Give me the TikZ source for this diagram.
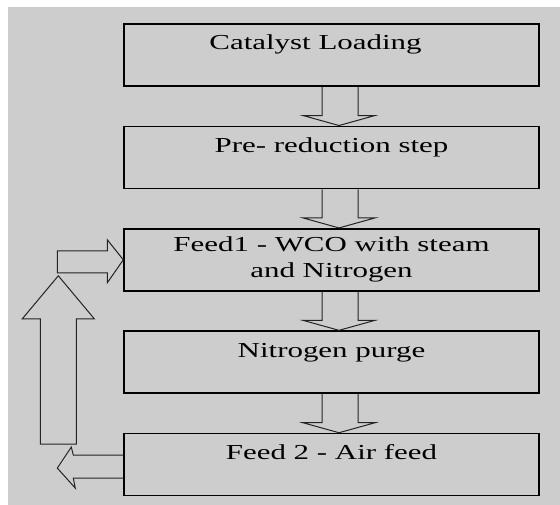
\documentclass[tikz,border=0pt]{standalone}
\usepackage{fontspec}
\setmainfont{Liberation Serif}[FakeStretch=1.45]
\usetikzlibrary{positioning,calc}
\definecolor{bggrey}{RGB}{205,205,205}
\definecolor{inkgrey}{RGB}{35,35,35}
\tikzset{
  stepbox/.style={draw=black, line width=1.3pt, minimum width=311pt, minimum height=46.5pt, align=center, text=black, font=\fontsize{16}{19.5}\selectfont},
  onerow/.style={text height=12pt, text depth=19.5pt},
  blkarr/.style={draw=inkgrey, line width=0.75pt, line join=miter}
}
\begin{document}
\begin{tikzpicture}[x=0.75pt, y=0.75pt, node distance=29pt]
  \useasboundingbox (0,0) rectangle (560,-505);
  \fill[bggrey] (8,-7) rectangle (560,-505);
  \node[stepbox, onerow] (cat) at (331.5,-55) {Catalyst Loading\hspace*{24pt}};
  \node[stepbox, onerow, below=of cat] (pre) {Pre- reduction step};
  \node[stepbox, below=of pre] (feedA) {Feed1 - WCO with steam\\and Nitrogen};
  \node[stepbox, onerow, below=of feedA] (purge) {Nitrogen purge};
  \node[stepbox, onerow, below=of purge] (feedB) {Feed 2 - Air feed};
  % hollow block arrows between the steps
  \foreach \a/\b in {cat/pre, pre/feedA, feedA/purge, purge/feedB}
    \draw[blkarr] ($(\a.south)+(-9.5,0)$) -- ($(\b.north)+(-9.5,10)$) -- ($(\b.north)+(-28.5,10)$) -- ($(\b.north)+(7.5,0)$) -- ($(\b.north)+(43.5,10)$) -- ($(\b.north)+(26.5,10)$) -- ($(\a.south)+(26.5,0)$);
  % return loop from feed 2 back to feed 1
  \draw[blkarr] ($(feedB.west)+(0,9.5)$) -- ($(feedB.west)+(-50,9.5)$) -- ($(feedB.west)+(-52,17.5)$) -- ($(feedB.west)+(-66,-3.5)$) -- ($(feedB.west)+(-48,-23.5)$) -- ($(feedB.west)+(-50,-13.5)$) -- ($(feedB.west)+(0,-13.5)$);
  \draw[blkarr] ($(feedB.west)+(-83,20.5)$) -- ($(feedA.west)+(-83,-59)$) -- ($(feedA.west)+(-101,-59)$) -- ($(feedA.west)+(-65,-16)$) -- ($(feedA.west)+(-29,-59)$) -- ($(feedA.west)+(-47,-59)$) -- ($(feedB.west)+(-47,20.5)$) -- cycle;
  \draw[blkarr] ($(feedA.west)+(-66,9)$) -- ($(feedA.west)+(-16,9)$) -- ($(feedA.west)+(-16,20)$) -- (feedA.west) -- ($(feedA.west)+(-16,-23)$) -- ($(feedA.west)+(-16,-13)$) -- ($(feedA.west)+(-66,-13)$) -- cycle;
\end{tikzpicture}
\end{document}
